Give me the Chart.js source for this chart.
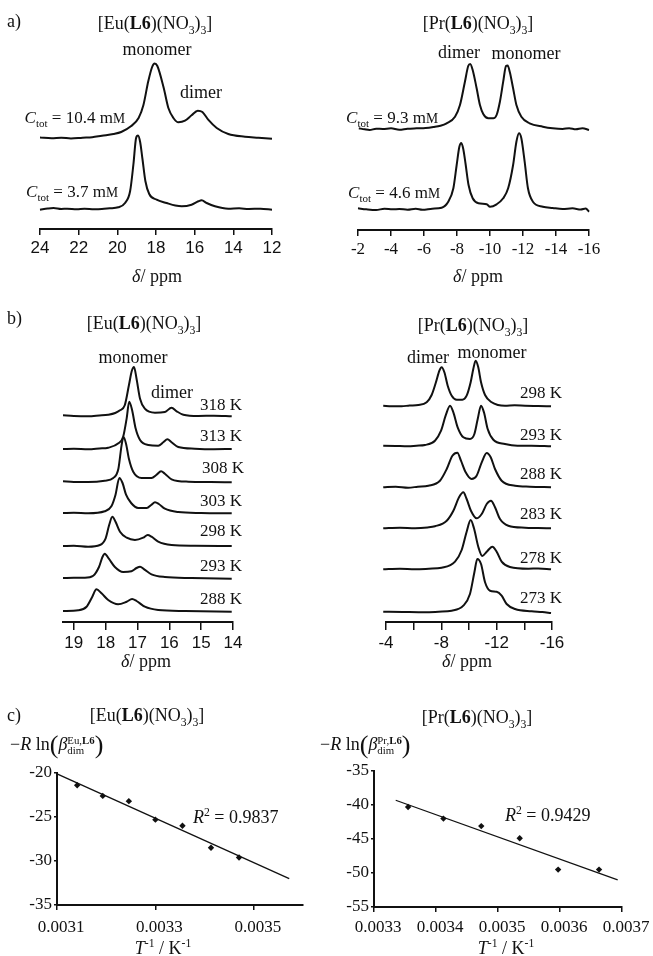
<!DOCTYPE html>
<html>
<head>
<meta charset="utf-8">
<script src="https://cdn.jsdelivr.net/npm/chart.js"></script>
<style>
body { margin: 0; background: #fff; }
#page { position: relative; width: 653px; height: 956px; overflow: hidden; background: #fff; }
canvas { position: absolute; left: 0; top: 0; }
.t { position: absolute; font-family: "Liberation Serif", "Times New Roman", serif; font-size: 18px; line-height: 1;
     white-space: nowrap; transform: translate(-50%, -50%); color: #111; }
.l { transform: translate(0, -50%); }
.r { transform: translate(-100%, -50%); }
.s17 { font-size: 17px; }
sub, sup { font-size: 0.65em; line-height: 0; }
.big { font-size: 1.45em; vertical-align: -0.12em; }
.ss { display: inline-block; vertical-align: -0.35em; line-height: 0.85; font-size: 0.6em; text-align: left; }
</style>
</head>
<body>
<div id="page">
  <canvas id="aEu" width="653" height="956"></canvas>
  <canvas id="aPr" width="653" height="956"></canvas>
  <canvas id="bEu" width="653" height="956"></canvas>
  <canvas id="bPr" width="653" height="956"></canvas>
  <canvas id="cEu" width="653" height="956"></canvas>
  <canvas id="cPr" width="653" height="956"></canvas>

  <!-- a) -->
  <div class="t l" style="left:7px;top:21px">a)</div>
  <div class="t" style="left:155px;top:23px">[Eu(<b>L6</b>)(NO<sub>3</sub>)<sub>3</sub>]</div>
  <div class="t" style="left:157px;top:49px">monomer</div>
  <div class="t" style="left:201px;top:92px">dimer</div>
  <div class="t r s17" style="left:125px;top:117px"><i>C</i><sub>tot</sub> = 10.4 m<span style="font-size:0.8em">M</span></div>
  <div class="t r s17" style="left:118px;top:191px"><i>C</i><sub>tot</sub> = 3.7 m<span style="font-size:0.8em">M</span></div>
  <div class="t" style="left:157px;top:276px"><i>δ</i>/ ppm</div>

  <div class="t" style="left:478px;top:23px">[Pr(<b>L6</b>)(NO<sub>3</sub>)<sub>3</sub>]</div>
  <div class="t" style="left:459px;top:52px">dimer</div>
  <div class="t" style="left:526px;top:53px">monomer</div>
  <div class="t r s17" style="left:438px;top:117px"><i>C</i><sub>tot</sub> = 9.3 m<span style="font-size:0.8em">M</span></div>
  <div class="t r s17" style="left:440px;top:192px"><i>C</i><sub>tot</sub> = 4.6 m<span style="font-size:0.8em">M</span></div>
  <div class="t" style="left:478px;top:276px"><i>δ</i>/ ppm</div>

  <!-- b) -->
  <div class="t l" style="left:7px;top:318px">b)</div>
  <div class="t" style="left:144px;top:323px">[Eu(<b>L6</b>)(NO<sub>3</sub>)<sub>3</sub>]</div>
  <div class="t" style="left:133px;top:357px">monomer</div>
  <div class="t" style="left:172px;top:392px">dimer</div>
  <div id="euTempLabels"></div>
  <div class="t" style="left:146px;top:661px"><i>δ</i>/ ppm</div>

  <div class="t" style="left:473px;top:325px">[Pr(<b>L6</b>)(NO<sub>3</sub>)<sub>3</sub>]</div>
  <div class="t" style="left:428px;top:357px">dimer</div>
  <div class="t" style="left:492px;top:352px">monomer</div>
  <div id="prTempLabels"></div>
  <div class="t" style="left:467px;top:661px"><i>δ</i>/ ppm</div>

  <!-- c) -->
  <div class="t l" style="left:7px;top:715px">c)</div>
  <div class="t" style="left:147px;top:715px">[Eu(<b>L6</b>)(NO<sub>3</sub>)<sub>3</sub>]</div>
  <div class="t l" style="left:10px;top:745px">−<i>R</i> ln<span class="big">(</span><i>β</i><span class="ss">Eu,<b>L6</b><br>dim</span><span class="big">)</span></div>
  <div class="t l" style="left:193px;top:817px"><i>R</i><sup>2</sup> = 0.9837</div>
  <div class="t" style="left:163px;top:948px"><i>T</i><sup>-1</sup> / K<sup>-1</sup></div>

  <div class="t" style="left:477px;top:717px">[Pr(<b>L6</b>)(NO<sub>3</sub>)<sub>3</sub>]</div>
  <div class="t l" style="left:320px;top:745px">−<i>R</i> ln<span class="big">(</span><i>β</i><span class="ss">Pr,<b>L6</b><br>dim</span><span class="big">)</span></div>
  <div class="t l" style="left:505px;top:815px"><i>R</i><sup>2</sup> = 0.9429</div>
  <div class="t" style="left:506px;top:948px"><i>T</i><sup>-1</sup> / K<sup>-1</sup></div>
</div>

<script>
// ---- a) concentration dependence, [ppm, intensity a.u.] ----
const euTicksA = [24, 22, 20, 18, 16, 14, 12];
const prTicksA = [-2, -4, -6, -8, -10, -12, -14, -16];

const euC104 = [[24.0,0.5],[23.4,-0.3],[22.9,0.3],[22.4,-0.5],[21.8,0.3],[21.3,0.8],[20.8,2.3],[20.2,4],[19.8,6],
  [19.3,11.7],[18.9,20],[18.65,33],[18.4,56.7],[18.2,71],[18.07,74.5],[17.93,72],[17.6,50],[17.36,30],[17.1,20],
  [16.84,15.7],[16.5,17.3],[16.16,22.7],[15.84,27.3],[15.6,26],[15.3,18.3],[14.86,10],[14.26,4],[13.4,1.3],[12.7,0.3],[12.0,-0.7]];
const euC37 = [[24.0,-0.7],[23.6,0.5],[23.3,1],[22.9,0],[22.6,0.3],[22.1,-0.3],[21.7,0.3],[21.2,-0.2],[20.8,0],[20.4,0.7],
  [19.95,1.7],[19.6,6],[19.34,17.7],[19.17,44.3],[19.03,71],[18.93,73.5],[18.82,67],[18.7,50],[18.55,28],[18.35,15],
  [17.97,9.3],[17.45,6],[17.0,3.5],[16.67,2.7],[16.16,4.3],[15.81,7.7],[15.64,8.7],[15.38,6],[14.95,2.7],[14.26,0.3],
  [13.7,0.7],[13.2,0],[12.6,0.3],[12.0,-0.7]];
const euOffsetsA = [91, 20];

const prC93 = [[-2.05,0.7],[-2.4,-0.3],[-2.7,-1],[-3.1,0.3],[-3.5,0],[-4.0,0.7],[-4.5,-0.7],[-5.0,0.3],[-5.55,0.7],
  [-6.1,1],[-6.57,2],[-7.0,3.3],[-7.37,5.7],[-7.88,12.3],[-8.18,24],[-8.48,47.3],[-8.68,63],[-8.8,65],[-8.95,59],
  [-9.19,40.7],[-9.39,24],[-9.6,14.7],[-9.9,10.7],[-10.2,10.7],[-10.4,14],[-10.6,27.3],[-10.8,47.3],[-10.97,63],
  [-11.07,63.5],[-11.2,57],[-11.4,40.7],[-11.6,24],[-11.9,12.3],[-12.4,5.7],[-13.2,2.3],[-13.8,0.7],[-14.4,0],
  [-14.8,0.8],[-15.2,-0.3],[-15.6,0.7],[-16,-1]];
const prC46 = [[-2.0,0.7],[-2.5,-0.3],[-3.1,-1],[-3.6,0.3],[-4.1,-0.3],[-4.5,0],[-5.0,-0.7],[-5.5,0.3],[-5.9,-0.7],
  [-6.5,0.3],[-7.07,1.3],[-7.47,7.3],[-7.78,20.7],[-7.98,44],[-8.14,62],[-8.26,66],[-8.38,60],[-8.52,45],[-8.7,24],
  [-8.95,10.7],[-9.3,5.7],[-9.8,4.7],[-10.0,2.3],[-10.4,4.7],[-10.8,10.7],[-11.1,20.7],[-11.4,44],[-11.6,67.3],
  [-11.76,75.7],[-11.9,70.7],[-12.1,47.3],[-12.3,20.7],[-12.6,7.3],[-13.2,2.3],[-13.8,1],[-14.4,0],[-15.0,0.7],
  [-15.5,-0.5],[-15.8,0.5],[-16,-2.7]];
const prOffsetsA = [101, 21];

// ---- b) temperature dependence ----
const euTicksB = [19, 18, 17, 16, 15, 14];
const euTemps = ['318 K', '313 K', '308 K', '303 K', '298 K', '293 K', '288 K'];
const eu318 = [[19.34,0.7],[19.0,0],[18.55,-0.3],[18.2,0.5],[17.92,1.3],[17.7,3],[17.55,5.7],[17.4,10.7],[17.27,30.7],
  [17.18,45],[17.11,49],[17.03,37.3],[16.92,17.3],[16.77,7.3],[16.45,3.3],[16.14,4],[15.93,8.3],[15.77,4.7],[15.56,1.3],
  [15.09,0],[14.6,0.3],[14.04,-0.3]];
const eu313 = [[19.34,0],[19.0,0.3],[18.55,-0.3],[18.2,0.5],[17.92,1.3],[17.6,5.7],[17.45,12.3],[17.34,30.7],[17.26,47.3],
  [17.17,39],[17.06,20.7],[16.92,9],[16.66,4],[16.35,3.3],[16.19,6.7],[16.06,9.7],[15.93,6.7],[15.72,2],[15.2,0.3],
  [14.6,-0.2],[14.04,0]];
const eu308 = [[19.34,0.7],[19.0,0],[18.55,0],[18.03,1.3],[17.76,4],[17.6,13.3],[17.5,36.7],[17.44,45],[17.36,38.3],
  [17.27,23.3],[17.13,10],[16.87,4],[16.56,4],[16.4,7.3],[16.26,10.7],[16.14,8.3],[15.93,2.7],[15.4,0.3],[14.7,0],[14.04,-0.3]];
const eu303 = [[19.34,0],[19.0,0.3],[18.55,-0.3],[18.03,1.7],[17.82,6.7],[17.69,18.3],[17.57,35],[17.47,30],[17.36,18.3],
  [17.2,10],[16.98,5],[16.71,5],[16.56,8.3],[16.45,10.7],[16.33,9],[16.14,4.3],[15.72,1],[15.0,0],[14.04,-0.3]];
const eu298 = [[19.34,0],[19.0,0.3],[18.55,-0.7],[18.18,1],[18.0,7.7],[17.89,21],[17.79,29.3],[17.69,24.3],[17.55,14.3],
  [17.34,8.3],[17.08,6],[16.82,8.3],[16.68,11],[16.56,9.3],[16.35,4.3],[15.93,1],[15.2,0.3],[14.04,0]];
const eu293 = [[19.34,0],[19.0,0.3],[18.65,0.3],[18.39,2.3],[18.21,11],[18.1,21],[18.03,24.3],[17.9,19.3],[17.71,11],
  [17.45,6],[17.19,6.7],[17.03,10],[16.92,11.3],[16.79,8.7],[16.56,3.7],[16.14,1],[15.3,0],[14.04,-0.7]];
const eu288 = [[19.34,0],[18.86,0.7],[18.6,4.3],[18.42,14.3],[18.29,21.7],[18.13,17.7],[17.92,11],[17.61,6.7],[17.34,9.3],
  [17.17,12],[17.03,10],[16.77,4.3],[16.35,1],[15.5,0],[14.04,-0.7]];
const euOffsetsB = [206, 173, 140, 109, 76, 44, 11];

const prTicksB = [-4, -6, -8, -10, -12, -14, -16];
const prLabelsB = [-4, -8, -12, -16];
const prTemps = ['298 K', '293 K', '288 K', '283 K', '278 K', '273 K'];
const pr298 = [[-3.8,0.3],[-4.4,-0.3],[-5.13,-0.3],[-5.7,0.5],[-6.34,1],[-6.94,3.7],[-7.3,11],[-7.61,23.7],[-7.86,35.3],
  [-8.02,38.7],[-8.22,33.7],[-8.46,20.3],[-8.75,10.3],[-9.11,6.3],[-9.52,6.3],[-9.83,10.3],[-10.12,23.7],[-10.31,37],
  [-10.48,45.3],[-10.67,38.7],[-10.87,23.7],[-11.16,11],[-11.64,3.7],[-12.1,1],[-12.6,0.3],[-13.3,0.7],[-14.05,0.3],
  [-15.0,0],[-15.93,-0.3]];
const pr293 = [[-3.8,0.3],[-4.7,0],[-5.6,-0.3],[-6.2,0.3],[-6.82,1],[-7.54,5.3],[-7.98,15.3],[-8.31,30.3],[-8.63,40.3],
  [-8.87,33.7],[-9.18,18.7],[-9.59,8.7],[-10.07,7],[-10.39,12],[-10.63,27],[-10.87,40.3],[-11.08,33.7],[-11.35,17],
  [-11.76,6.3],[-12.6,2],[-13.5,0.3],[-14.5,0.3],[-15.93,-0.3]];
const pr288 = [[-3.8,-0.3],[-4.7,0.3],[-5.6,-0.7],[-6.3,0.3],[-7.06,1.3],[-7.9,6.3],[-8.39,18],[-8.8,31.3],[-9.16,34.3],
  [-9.42,26.3],[-9.76,14.7],[-10.19,8],[-10.55,11.3],[-10.92,24.7],[-11.28,34],[-11.57,29.7],[-11.88,18],[-12.36,6.3],
  [-13.33,1.3],[-14.4,0.3],[-15.93,-0.3]];
const pr283 = [[-3.8,-0.3],[-5.0,0.3],[-6.1,-0.3],[-7.0,0.5],[-7.54,1.7],[-8.39,7.3],[-8.87,17.3],[-9.28,30.7],[-9.59,35.7],
  [-9.83,29],[-10.14,17.3],[-10.55,9.7],[-10.92,14],[-11.28,24],[-11.59,27.3],[-11.88,20.7],[-12.24,9],[-12.84,2.3],
  [-14.05,0.3],[-15.0,0],[-15.93,-0.3]];
const pr278 = [[-3.8,-0.3],[-5.0,0.3],[-6.1,-0.3],[-7.1,0.3],[-8.02,1.3],[-8.99,7.3],[-9.47,19],[-9.83,37.3],[-10.12,49],
  [-10.36,40.7],[-10.67,22.3],[-10.96,13],[-11.28,17.3],[-11.69,22.3],[-12.0,17.3],[-12.36,7.3],[-12.96,2],[-14.29,0.3],
  [-15.0,0.5],[-15.93,-0.3]];
const pr273 = [[-3.8,0.3],[-5.2,0],[-6.82,-0.3],[-7.8,0.3],[-8.75,1.3],[-9.59,6.3],[-10.07,18],[-10.39,39.7],[-10.6,53],
  [-10.87,48],[-11.16,29.7],[-11.52,21.3],[-12.0,20.3],[-12.36,16.3],[-12.72,8],[-13.33,3],[-14.53,0.7],[-15.3,0],[-15.93,-1]];
const prOffsetsB = [216, 176, 135, 94, 53, 10];

// ---- c) van 't Hoff plots ----
const euInvT = [0.003141, 0.003193, 0.003246, 0.0033, 0.003355, 0.003413, 0.00347];
const euRlnB = [-21.4, -22.6, -23.2, -25.3, -26.0, -28.5, -29.6];
const euFitX = [0.0031, 0.003572];
const euFitY = [-20.1, -32.0];
const euTicksC = [0.0031, 0.0033, 0.0035];

const prInvT = [0.003355, 0.003412, 0.003473, 0.003535, 0.003597, 0.003663];
const prRlnB = [-40.3, -42.0, -43.1, -44.9, -49.5, -49.5];
const prFitX = [0.003335, 0.003693];
const prFitY = [-39.3, -51.0];
const prTicksC = [0.0033, 0.0034, 0.0035, 0.0036, 0.0037];

const W = 653, H = 956;
const INK = '#111';
const SANS = 'Liberation Sans, Arial, sans-serif';
const SERIF = 'Liberation Serif, Times New Roman, serif';

function spectra(id, traces, offsets, area, xRange, ticks, labels, font, tickLen) {
    const axisH = 40;
    new Chart(document.getElementById(id), {
        type: 'line',
        data: {
            datasets: traces.map((tr, i) => ({
                data: tr.map(p => ({ x: p[0], y: p[1] + offsets[i] })),
                borderColor: INK,
                borderWidth: 2,
                pointRadius: 0,
                cubicInterpolationMode: 'monotone',
                fill: false,
                clip: false
            }))
        },
        options: {
            responsive: false,
            animation: false,
            events: [],
            devicePixelRatio: 1,
            layout: { padding: { left: area.l, top: area.t, right: W - area.r, bottom: H - area.b - axisH } },
            plugins: { legend: { display: false }, tooltip: { enabled: false } },
            scales: {
                x: {
                    type: 'linear', reverse: true, min: xRange[0], max: xRange[1],
                    afterFit: s => { s.height = axisH; },
                    afterBuildTicks: s => { s.ticks = ticks.map(v => ({ value: v })); },
                    grid: { display: true, drawOnChartArea: false, drawTicks: true, tickLength: tickLen, color: INK, lineWidth: 1.5 },
                    border: { display: true, color: INK, width: 2 },
                    ticks: {
                        font: font, color: INK, padding: 3, maxRotation: 0, autoSkip: false,
                        callback: v => labels.includes(v) ? String(v) : ''
                    }
                },
                y: { display: false, min: 0, max: area.b - area.t }
            }
        }
    });
}

function vantHoff(id, xs, ys, fitX, fitY, area, xRange, yRange, xTicks, xPad) {
    const axisH = 36, axisW = 45;
    const font = { family: SERIF, size: 17 };
    new Chart(document.getElementById(id), {
        type: 'scatter',
        data: {
            datasets: [
                { type: 'line', data: fitX.map((x, i) => ({ x: x, y: fitY[i] })), borderColor: INK, borderWidth: 1.3,
                  pointRadius: 0, clip: false },
                { data: xs.map((x, i) => ({ x: x, y: ys[i] })), pointStyle: 'rectRot', pointRadius: 3.2,
                  backgroundColor: INK, borderColor: INK, borderWidth: 0 }
            ]
        },
        options: {
            responsive: false,
            animation: false,
            events: [],
            devicePixelRatio: 1,
            layout: { padding: { left: area.l - axisW, top: area.t, right: W - area.r, bottom: H - area.b - axisH } },
            plugins: { legend: { display: false }, tooltip: { enabled: false } },
            scales: {
                x: {
                    type: 'linear', min: xRange[0], max: xRange[1],
                    afterFit: s => { s.height = axisH; },
                    afterBuildTicks: s => { s.ticks = xTicks.map(v => ({ value: v })); },
                    grid: { display: true, drawOnChartArea: false, tickLength: 5, color: INK, lineWidth: 1.5 },
                    border: { display: true, color: INK, width: 2 },
                    ticks: { font: font, color: INK, padding: xPad, labelOffset: 4, maxRotation: 0, autoSkip: false,
                             callback: v => v.toFixed(4) }
                },
                y: {
                    min: yRange[0], max: yRange[1],
                    afterFit: s => { s.width = axisW; },
                    grid: { display: true, drawOnChartArea: false, tickLength: 3, color: INK, lineWidth: 1.5 },
                    border: { display: true, color: INK, width: 2 },
                    ticks: { font: font, color: INK, padding: 2, stepSize: 5, callback: v => String(v) }
                }
            }
        }
    });
}

spectra('aEu', [euC104, euC37], euOffsetsA, { l: 40, t: 45, r: 272, b: 229 }, [12, 24],
        euTicksA, euTicksA, { family: SANS, size: 17 }, 6);
spectra('aPr', [prC93, prC46], prOffsetsA, { l: 358, t: 45, r: 589, b: 230 }, [-16, -2],
        prTicksA, prTicksA, { family: SERIF, size: 17 }, 6);
spectra('bEu', [eu318, eu313, eu308, eu303, eu298, eu293, eu288], euOffsetsB, { l: 63, t: 350, r: 233, b: 622 },
        [14, 19.34], euTicksB, euTicksB, { family: SANS, size: 17 }, 8);
spectra('bPr', [pr298, pr293, pr288, pr283, pr278, pr273], prOffsetsB, { l: 386, t: 350, r: 552, b: 622 },
        [-16, -4], prTicksB, prLabelsB, { family: SANS, size: 17 }, 8);

vantHoff('cEu', euInvT, euRlnB, euFitX, euFitY, { l: 57, t: 773, r: 303, b: 905 }, [0.0031, 0.0036], [-35, -20], euTicksC, 7);
vantHoff('cPr', prInvT, prRlnB, prFitX, prFitY, { l: 374, t: 771, r: 622, b: 907 }, [0.0033, 0.0037], [-55, -35], prTicksC, 5);

// temperature labels next to each trace
function tempLabels(boxId, temps, lefts, tops) {
    const box = document.getElementById(boxId);
    temps.forEach((txt, i) => {
        const d = document.createElement('div');
        d.className = 't l s17';
        d.style.left = lefts[i] + 'px';
        d.style.top = tops[i] + 'px';
        d.textContent = txt;
        box.appendChild(d);
    });
}
tempLabels('euTempLabels', euTemps, [200, 200, 202, 200, 200, 200, 200], [404, 435, 467, 500, 530, 565, 598]);
tempLabels('prTempLabels', prTemps, [520, 520, 520, 520, 520, 520], [392, 434, 473, 513, 557, 597]);
</script>
</body>
</html>
